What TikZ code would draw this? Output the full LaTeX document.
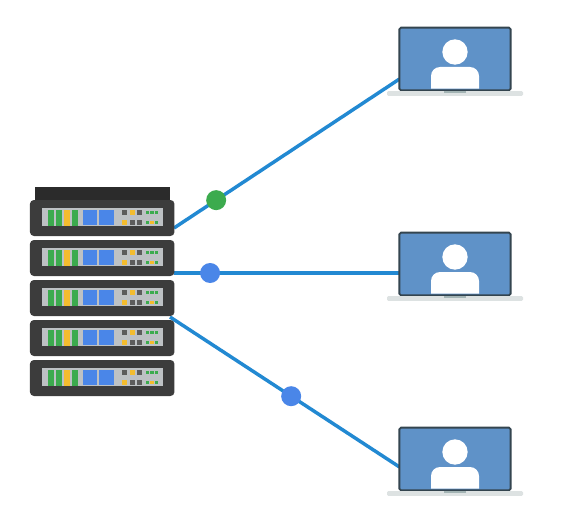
\documentclass[tikz,border=0pt]{standalone}
\definecolor{rackdark}{HTML}{3C3C3C}
\definecolor{rackcap}{HTML}{2B2B2B}
\definecolor{panelgray}{HTML}{BDC1C4}
\definecolor{ledgreen}{HTML}{3CAB4E}
\definecolor{ledyellow}{RGB}{243,188,46}
\definecolor{ledblue}{HTML}{4A86E8}
\definecolor{ledgray}{HTML}{5C5C5C}
\definecolor{screen}{HTML}{5F92C8}
\definecolor{frame}{HTML}{34454F}
\definecolor{wire}{HTML}{2289D2}
\definecolor{basecol}{HTML}{DDE2E2}
\definecolor{notch}{HTML}{A3B4B4}
\tikzset{
  x=0.75pt,y=-0.75pt,
  unitbox/.style={fill=rackdark,draw=none,rounded corners=3pt,inner sep=0pt,minimum width=108.4pt,minimum height=27pt},
  wireline/.style={draw=wire,line width=2.6pt},
  dotgreen/.style={circle,fill=ledgreen,draw=none,inner sep=0pt,minimum size=15pt},
  dotblue/.style={circle,fill=ledblue,draw=none,inner sep=0pt,minimum size=15pt},
  screenbox/.style={fill=screen,draw=frame,line width=1.4pt,rounded corners=1.2pt,inner sep=0pt,minimum width=83.5pt,minimum height=47pt},
  basebox/.style={fill=basecol,draw=none,rounded corners=1pt,inner sep=0pt,minimum width=102pt,minimum height=3.6pt},
  notchbox/.style={fill=notch,draw=none,inner sep=0pt,minimum width=16.5pt,minimum height=1.2pt},
  headdot/.style={circle,fill=white,draw=none,inner sep=0pt,minimum size=19pt}
}
\begin{document}
\begin{tikzpicture}
\useasboundingbox (0,0) rectangle (563,528);
\fill[white] (0,0) rectangle (563,528);
% connector ends
\coordinate (s1) at (174,228);
\coordinate (s2) at (174,273);
\coordinate (s3) at (170,317);
\coordinate (l1) at (399.5,79);
\coordinate (l2) at (399.5,273);
\coordinate (l3) at (399.5,467);
\draw[wireline] (s1) -- node[dotgreen,pos=0.187]  (d1) {} (l1);
\draw[wireline] (s2) -- node[dotblue,pos=0.16]   (d2) {} (l2);
\draw[wireline] (s3) -- node[dotblue,pos=0.528]  (d3) {} (l3);
% rack
\fill[rackcap] (34.5,187) rectangle (170,202);
\foreach \i/\t in {1/200,2/240,3/280,4/320,5/360}{
  \node[unitbox] (u\i) at (102.2,\t+18) {};
  \begin{scope}[shift={(0,\t)}]
    \fill[panelgray] (41.7,8.3) rectangle (162.7,26);
    \fill[ledgreen] (48,9.5) rectangle (54,25.5);
    \fill[ledgreen] (56,9.5) rectangle (62,25.5);
    \fill[ledyellow] (63.7,9.5) rectangle (70.3,25.5);
    \fill[ledgreen] (71.7,9.5) rectangle (77.7,25.5);
    \fill[ledblue] (83,10) rectangle (97.3,25);
    \fill[ledblue] (99,10) rectangle (113.7,25);
    \fill[ledgray]   (122.3,9.7) rectangle (127.3,15);
    \fill[ledyellow] (130,9.7) rectangle (134.7,15);
    \fill[ledgray]   (136.7,9.7) rectangle (141.7,15);
    \fill[ledyellow] (122.3,19.7) rectangle (127.3,25);
    \fill[ledgray]   (130,19.7) rectangle (134.7,25);
    \fill[ledgray]   (136.7,19.7) rectangle (141.7,25);
    \fill[ledgreen] (146,10.7) rectangle (149.3,14);
    \fill[ledgreen] (150.3,10.7) rectangle (153.7,14);
    \fill[ledgreen] (154.7,10.7) rectangle (158,14);
    \fill[ledgreen] (146,20.7) rectangle (149.3,24);
    \fill[ledyellow] (150.3,20.7) rectangle (153.7,24);
    \fill[ledgreen] (154.7,20.7) rectangle (158,24);
  \end{scope}
}
% laptops
\foreach \n/\t in {a/27,b/232,c/427}{
  \node[screenbox] (scr\n) at (455,\t+32) {};
  \node[basebox] (base\n) at (455,\t+66.5) {};
  \node[notchbox] (notch\n) at (455,\t+64.8) {};
  \node[headdot] (head\n) at (455,\t+25) {};
  \fill[white] (431,\t+61.5) -- (431,\t+49) arc[start angle=180,end angle=270,radius=9] -- (470,\t+40) arc[start angle=270,end angle=360,radius=9] -- (479,\t+61.5) -- cycle;
}
\end{tikzpicture}
\end{document}
